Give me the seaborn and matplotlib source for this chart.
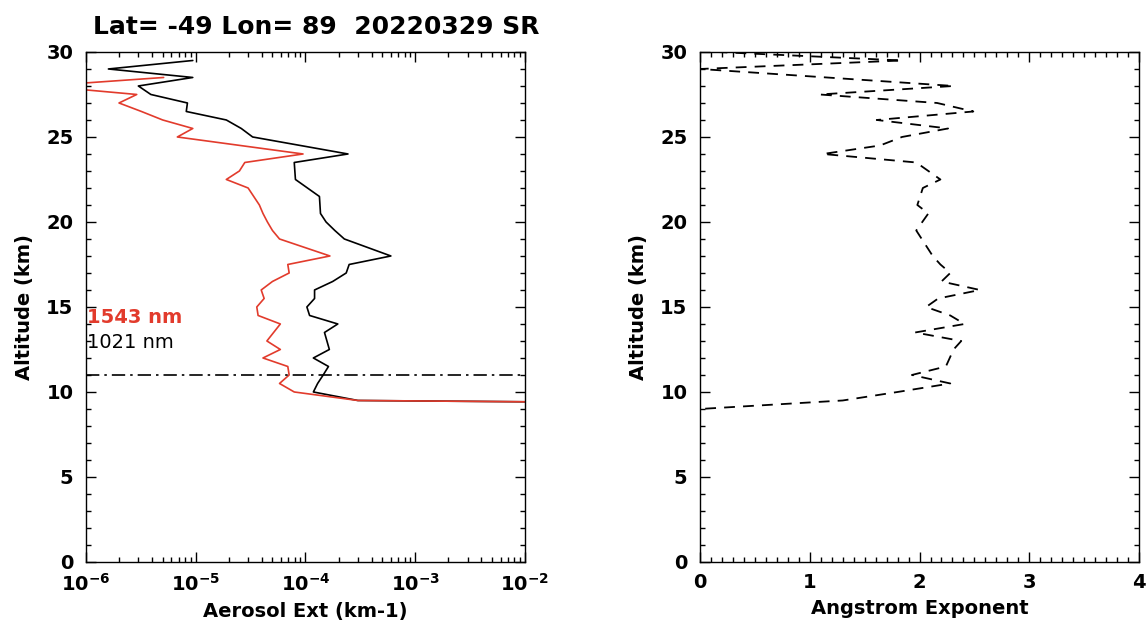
import numpy as np
import pandas as pd
import matplotlib
matplotlib.use("Agg")
import matplotlib.pyplot as plt
from matplotlib.ticker import LogLocator, MultipleLocator, NullFormatter, LogFormatterSciNotation
import seaborn as sns

# ---- profile data -------------------------------------------------------
title = "Lat= -49 Lon= 89  20220329 SR"

alt_1021 = [29.5, 29.0, 28.5, 28.0, 27.5, 27.0, 26.5, 26.0, 25.5, 25.0, 24.0,
            23.5, 22.5, 21.5, 20.5, 20.0, 19.5, 19.0, 18.0, 17.5, 17.0, 16.5,
            16.0, 15.5, 15.0, 14.5, 14.0, 13.5, 12.5, 12.0, 11.5, 11.0, 10.5,
            10.0, 9.5, 9.4]
ext_1021 = [9.4e-6, 1.6e-6, 9.4e-6, 3.0e-6, 3.9e-6, 8.4e-6, 8.2e-6, 1.9e-5,
            2.6e-5, 3.3e-5, 2.44e-4, 7.9e-5, 8.1e-5, 1.34e-4, 1.37e-4, 1.54e-4,
            1.85e-4, 2.26e-4, 6.0e-4, 2.5e-4, 2.35e-4, 1.77e-4, 1.21e-4, 1.21e-4,
            1.03e-4, 1.09e-4, 1.97e-4, 1.49e-4, 1.65e-4, 1.18e-4, 1.62e-4,
            1.45e-4, 1.29e-4, 1.18e-4, 3.0e-4, 3.0e-2]

alt_1543 = [28.5, 28.0, 27.5, 27.0, 26.5, 26.0, 25.5, 25.0, 24.0, 23.5, 23.0,
            22.5, 22.0, 21.0, 20.5, 20.0, 19.5, 19.0, 18.0, 17.5, 17.0, 16.5,
            16.0, 15.5, 15.0, 14.5, 14.0, 13.0, 12.5, 12.0, 11.5, 11.0, 10.5,
            10.0, 9.5, 9.4]
ext_1543 = [5.1e-6, 4.0e-7, 2.9e-6, 2.0e-6, 3.2e-6, 5.0e-6, 9.4e-6, 6.8e-6,
            9.5e-5, 2.8e-5, 2.5e-5, 1.9e-5, 3.0e-5, 3.8e-5, 4.1e-5, 4.5e-5,
            5.0e-5, 5.8e-5, 1.67e-4, 6.9e-5, 7.1e-5, 5.0e-5, 3.95e-5, 4.2e-5,
            3.6e-5, 3.7e-5, 5.9e-5, 4.45e-5, 5.9e-5, 4.1e-5, 6.9e-5, 7.1e-5,
            5.8e-5, 7.9e-5, 3.0e-4, 3.0e-2]

alt_ae = [30.0, 29.5, 29.0, 28.0, 27.5, 27.0, 26.5, 26.0, 25.5, 25.0, 24.5,
          24.0, 23.5, 22.5, 22.0, 21.0, 20.5, 19.5, 18.0, 17.5, 17.0, 16.5,
          16.0, 15.5, 15.0, 14.5, 14.0, 13.5, 13.0, 12.5, 11.5, 11.0, 10.5,
          10.0, 9.5, 9.0, 0.5]
angstrom = [0.15, 1.84, 0.0, 2.31, 1.09, 2.16, 2.49, 1.61, 2.26, 1.84, 1.64,
            1.12, 1.97, 2.19, 2.03, 1.98, 2.08, 1.97, 2.12, 2.19, 2.28, 2.20,
            2.55, 2.17, 2.06, 2.28, 2.41, 1.96, 2.38, 2.31, 2.24, 1.93, 2.28,
            1.80, 1.30, 0.0, 0.0]

tropopause_km = 11.0

RED = "#e23b2c"

# ---- style ---------------------------------------------------------------
sns.set_theme(style="ticks")
plt.rcParams.update({
    "font.family": ["DejaVu Sans"],
    "font.weight": "bold",
    "axes.labelweight": "bold",
    "mathtext.fontset": "custom",
    "mathtext.rm": "DejaVu Sans:bold",
    "mathtext.it": "DejaVu Sans:bold:italic",
    "mathtext.bf": "DejaVu Sans:bold",
    "mathtext.default": "rm",
    "axes.linewidth": 1.0,
    "axes.edgecolor": "black",
    "text.color": "black",
    "axes.labelcolor": "black",
    "xtick.color": "black",
    "ytick.color": "black",
})

fig = plt.figure(figsize=(11.48, 6.27), dpi=100)
ax1 = fig.add_axes([0.0749, 0.1037, 0.3824, 0.8134])
ax2 = fig.add_axes([0.6098, 0.1037, 0.3824, 0.8134])


def style_axis(ax):
    ax.tick_params(axis="both", which="both", direction="in", top=True,
                   right=True, width=1.0, colors="black", labelsize=14)
    ax.tick_params(axis="both", which="major", length=7)
    ax.tick_params(axis="both", which="minor", length=3.5)
    ax.tick_params(axis="y", which="major", pad=9)
    ax.tick_params(axis="x", which="major", pad=8)
    ax.set_ylim(0, 30)
    ax.yaxis.set_major_locator(MultipleLocator(5))
    ax.yaxis.set_minor_locator(MultipleLocator(1))
    ax.set_ylabel("Altitude (km)", fontsize=14, fontweight="bold", labelpad=9)
    for sp in ax.spines.values():
        sp.set_visible(True)
        sp.set_color("black")
        sp.set_linewidth(1.0)


# ---- left: aerosol extinction profiles -----------------------------------
ax1.set_xscale("log")
df1021 = pd.DataFrame({"ext": ext_1021, "alt": alt_1021})
df1543 = pd.DataFrame({"ext": ext_1543, "alt": alt_1543})
sns.lineplot(data=df1021, x="ext", y="alt", sort=False, estimator=None,
             color="black", lw=1.2, ax=ax1, legend=False)
sns.lineplot(data=df1543, x="ext", y="alt", sort=False, estimator=None,
             color=RED, lw=1.2, ax=ax1, legend=False)
ax1.axhline(tropopause_km, color="black", lw=1.2, linestyle=(0, (8, 3, 1.5, 3)))

ax1.set_xlim(1e-6, 1e-2)
ax1.xaxis.set_major_locator(LogLocator(base=10, numticks=10))
ax1.xaxis.set_minor_locator(LogLocator(base=10, subs=np.arange(2, 10), numticks=20))
ax1.xaxis.set_major_formatter(LogFormatterSciNotation())
ax1.xaxis.set_minor_formatter(NullFormatter())
style_axis(ax1)
ax1.set_xlabel("Aerosol Ext (km-1)", fontsize=14, fontweight="bold", labelpad=5)
ax1.set_title(title, fontsize=18, fontweight="bold", pad=13, x=0.524)

ytr = ax1.get_yaxis_transform()
ax1.text(0.002, 14.4, "1543 nm", color=RED, fontsize=14, fontweight="bold",
         transform=ytr, ha="left", va="center")
ax1.text(0.002, 12.9, "1021 nm", color="black", fontsize=14, fontweight="normal",
         transform=ytr, ha="left", va="center")

# ---- right: Angstrom exponent --------------------------------------------
dfae = pd.DataFrame({"ae": angstrom, "alt": alt_ae})
sns.lineplot(data=dfae, x="ae", y="alt", sort=False, estimator=None,
             color="black", lw=1.3, ax=ax2, legend=False)
ax2.lines[-1].set_linestyle((0, (6, 4.5)))
ax2.set_xlim(0, 4)
ax2.xaxis.set_major_locator(MultipleLocator(1))
ax2.xaxis.set_minor_locator(MultipleLocator(0.1))
style_axis(ax2)
ax2.set_xlabel("Angstrom Exponent", fontsize=14, fontweight="bold", labelpad=5)

fig.savefig("out.png", dpi=100)
